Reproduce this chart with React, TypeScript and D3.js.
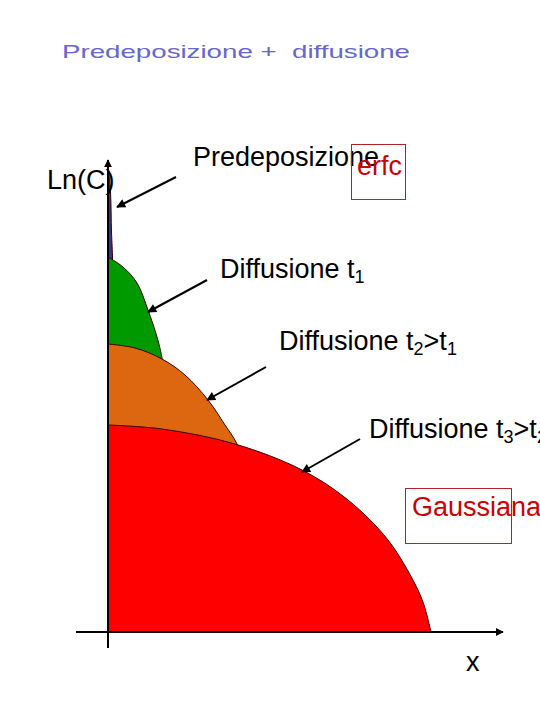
import React from "react";
import * as d3 from "d3";

// profili: profondità x (u.a.) e ln(C) (u.a.)
const predepDepth = [0, 2.5, 3.5, 4.5, 6, 8];
const predepLnC = [468, 440, 400, 375, 200, 0];

const diff1Depth = [0, 15, 29, 40, 49, 54, 65, 74, 78];
const diff1LnC = [375, 365, 349, 322, 295, 274, 190, 90, 0];

const diff2Depth = [0, 27, 54, 77, 100, 117, 129, 150, 162, 169];
const diff2LnC = [288, 284, 273, 257, 232, 207, 188, 132, 80, 0];

const diff3Depth = [0, 54, 127, 194, 240, 280, 307, 316, 323];
const diff3LnC = [207, 203, 188, 162, 132, 92, 48, 27, 0];

const fills = ["#333399", "#009900", "#DD6611", "#FF0000"];

// frecce: punto di partenza e punta, in unità dati
const arrowFromDepth = [68, 99, 158, 252];
const arrowFromLnC = [455, 352, 265, 193];
const arrowToDepth = [9, 40, 99, 194];
const arrowToLnC = [425, 320, 232, 160];

const W = 540;
const H = 720;
const FONT = "'Liberation Sans', Arial, sans-serif";

type Pt = { d: number; c: number };

const zip = (ds: number[], cs: number[]): Pt[] =>
  ds.map((d, i) => ({ d, c: cs[i] }));

const App: React.FC = () => {
  const x = d3.scaleLinear().domain([0, 395]).range([108, 503]);
  const y = d3.scaleLinear().domain([0, 472]).range([632, 160]);

  const profiles = [
    zip(predepDepth, predepLnC),
    zip(diff1Depth, diff1LnC),
    zip(diff2Depth, diff2LnC),
    zip(diff3Depth, diff3LnC),
  ];

  const area = d3
    .area<Pt>()
    .x((p) => x(p.d))
    .y0(y(0))
    .y1((p) => y(p.c))
    .curve(d3.curveCatmullRom.alpha(0.5));

  const labelStyle: React.CSSProperties = {
    fontFamily: FONT,
    fontSize: 27,
    whiteSpace: "pre",
  };
  const sub = 18;

  return (
    <svg
      width={W}
      height={H}
      style={{ position: "absolute", left: 0, top: 0, background: "#fff" }}
    >
      <defs>
        <marker
          id="head"
          viewBox="0 0 10 10"
          refX="9"
          refY="5"
          markerWidth="5.5"
          markerHeight="4.5"
          orient="auto"
        >
          <path d="M0,0 L10,5 L0,10 Z" fill="#000" />
        </marker>
        <marker
          id="axhead"
          viewBox="0 0 10 10"
          refX="9"
          refY="5"
          markerWidth="4"
          markerHeight="4"
          orient="auto"
        >
          <path d="M0,0 L10,5 L0,10 Z" fill="#000" />
        </marker>
      </defs>

      {/* titolo */}
      <text
        x={62}
        y={58}
        fill="#6666CC"
        textLength={348}
        lengthAdjust="spacingAndGlyphs"
        style={{ ...labelStyle, fontSize: 18.5 }}
      >
        {"Predeposizione +  diffusione"}
      </text>

      {/* profili */}
      {profiles.map((pts, i) => (
        <path
          key={i}
          d={area(pts) ?? ""}
          fill={fills[i]}
          stroke="#3a0000"
          strokeWidth={1}
        />
      ))}

      {/* assi */}
      <line
        x1={x(0)}
        y1={y(-16)}
        x2={x(0)}
        y2={y(472)}
        stroke="#000"
        strokeWidth={2}
        markerEnd="url(#axhead)"
      />
      <line
        x1={x(-32)}
        y1={y(0)}
        x2={x(395)}
        y2={y(0)}
        stroke="#000"
        strokeWidth={2}
        markerEnd="url(#axhead)"
      />

      {/* frecce */}
      {arrowFromDepth.map((d, i) => (
        <line
          key={i}
          x1={x(d)}
          y1={y(arrowFromLnC[i])}
          x2={x(arrowToDepth[i])}
          y2={y(arrowToLnC[i])}
          stroke="#000"
          strokeWidth={2}
          markerEnd="url(#head)"
        />
      ))}

      {/* etichette */}
      <text x={47} y={189} fill="#000" style={labelStyle}>
        Ln(C)
      </text>
      <text x={466} y={671} fill="#000" style={labelStyle}>
        x
      </text>

      <text x={193} y={166} fill="#000" style={labelStyle}>
        Predeposizione
      </text>
      <rect
        x={351.5}
        y={144.5}
        width={54}
        height={55}
        fill="none"
        stroke="#B22222"
        strokeWidth={1}
      />
      <text x={357} y={175} fill="#CC0000" style={labelStyle}>
        erfc
      </text>

      <text x={220} y={278} fill="#000" style={labelStyle}>
        Diffusione t
        <tspan fontSize={sub} dy={5}>
          1
        </tspan>
      </text>
      <text x={279} y={350} fill="#000" style={labelStyle}>
        Diffusione t
        <tspan fontSize={sub} dy={5}>
          2
        </tspan>
        <tspan dy={-5}>{">t"}</tspan>
        <tspan fontSize={sub} dy={5}>
          1
        </tspan>
      </text>
      <text x={369} y={438} fill="#000" style={labelStyle}>
        Diffusione t
        <tspan fontSize={sub} dy={5}>
          3
        </tspan>
        <tspan dy={-5}>{">t"}</tspan>
        <tspan fontSize={sub} dy={5}>
          2
        </tspan>
      </text>

      <rect
        x={405.5}
        y={488.5}
        width={106}
        height={55}
        fill="none"
        stroke="#B22222"
        strokeWidth={1}
      />
      <text x={412} y={516} fill="#CC0000" style={labelStyle}>
        Gaussiana
      </text>
    </svg>
  );
};

export default App;
